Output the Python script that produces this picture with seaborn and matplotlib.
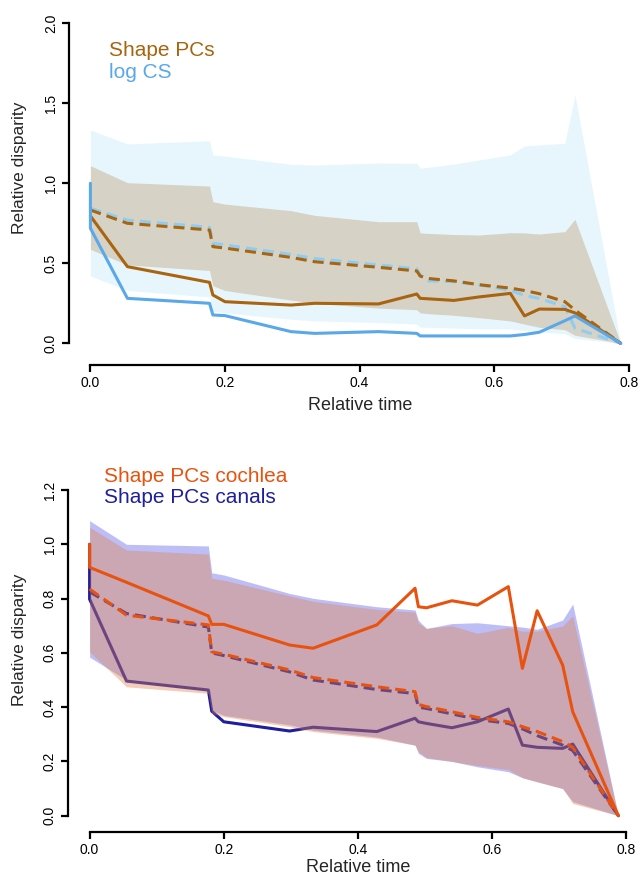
import numpy as np
import pandas as pd
import matplotlib
matplotlib.use("Agg")
import matplotlib.pyplot as plt
import seaborn as sns

# ---------------- data ----------------
time = [0, 0.055, 0.177, 0.182, 0.2, 0.298, 0.333, 0.428, 0.485, 0.49, 0.502,
        0.54, 0.578, 0.624, 0.645, 0.667, 0.705, 0.72, 0.788]

# top panel
shape_obs = [0.796, 0.479, 0.381, 0.302, 0.26, 0.239, 0.25, 0.246, 0.308, 0.281, 0.278,
             0.268, 0.29, 0.312, 0.171, 0.214, 0.212, 0.19, 0.0]
logcs_obs = [0.719, 0.281, 0.25, 0.177, 0.173, 0.073, 0.062, 0.073, 0.062, 0.046, 0.046,
             0.046, 0.046, 0.046, 0.055, 0.069, 0.141, 0.171, 0.0]
shape_null = [0.833, 0.75, 0.708, 0.604, 0.595, 0.537, 0.51, 0.475, 0.452, 0.42, 0.405,
              0.39, 0.366, 0.345, 0.33, 0.31, 0.26, 0.208, 0.0]
logcs_null = [0.844, 0.77, 0.725, 0.625, 0.615, 0.555, 0.53, 0.49, 0.465, 0.43, 0.39,
              0.385, 0.365, 0.33, 0.3, 0.28, 0.229, 0.094, 0.0]
logcs_hi = [1.333, 1.246, 1.266, 1.177, 1.17, 1.119, 1.114, 1.127, 1.125, 1.094, 1.1,
            1.12, 1.146, 1.177, 1.233, 1.24, 1.25, 1.552, 0.0]
logcs_lo = [0.421, 0.33, 0.29, 0.2, 0.19, 0.15, 0.14, 0.13, 0.12, 0.1, 0.1,
            0.095, 0.09, 0.09, 0.08, 0.07, 0.06, 0.03, 0.0]
shape_hi = [1.11, 1.004, 0.983, 0.885, 0.87, 0.829, 0.8, 0.76, 0.76, 0.69, 0.687,
            0.68, 0.677, 0.691, 0.69, 0.683, 0.698, 0.775, 0.0]
shape_lo = [0.587, 0.49, 0.455, 0.36, 0.33, 0.27, 0.25, 0.22, 0.21, 0.19, 0.185,
            0.175, 0.16, 0.14, 0.12, 0.1, 0.085, 0.05, 0.0]

# bottom panel
coch_obs = [0.915, 0.86, 0.736, 0.705, 0.705, 0.629, 0.617, 0.703, 0.838, 0.77, 0.766,
            0.792, 0.776, 0.844, 0.543, 0.755, 0.555, 0.383, 0.0]
can_obs = [0.798, 0.496, 0.463, 0.385, 0.346, 0.312, 0.326, 0.31, 0.359, 0.346, 0.34,
           0.324, 0.346, 0.393, 0.26, 0.252, 0.248, 0.264, 0.0]
coch_null = [0.835, 0.739, 0.703, 0.604, 0.595, 0.537, 0.509, 0.475, 0.457, 0.41, 0.402,
             0.383, 0.362, 0.346, 0.328, 0.31, 0.273, 0.252, 0.0]
can_null = [0.825, 0.745, 0.695, 0.6, 0.59, 0.53, 0.5, 0.465, 0.45, 0.4, 0.395,
            0.375, 0.355, 0.34, 0.32, 0.295, 0.26, 0.24, 0.0]
can_hi = [1.087, 1.0, 0.994, 0.895, 0.887, 0.819, 0.801, 0.77, 0.758, 0.72, 0.69,
          0.708, 0.711, 0.70, 0.695, 0.687, 0.721, 0.78, 0.0]
can_lo = [0.584, 0.5, 0.463, 0.389, 0.37, 0.335, 0.315, 0.29, 0.26, 0.23, 0.211,
          0.2, 0.18, 0.162, 0.14, 0.125, 0.1, 0.052, 0.0]
coch_hi = [1.063, 0.979, 0.964, 0.875, 0.868, 0.81, 0.79, 0.76, 0.75, 0.71, 0.69,
           0.70, 0.672, 0.694, 0.68, 0.68, 0.699, 0.736, 0.0]
coch_lo = [0.604, 0.475, 0.451, 0.377, 0.365, 0.328, 0.31, 0.285, 0.26, 0.235, 0.215,
           0.2, 0.185, 0.17, 0.14, 0.125, 0.1, 0.045, 0.0]

x_ticks = [0.0, 0.2, 0.4, 0.6, 0.8]
x_ticklabels = ["0.0", "0.2", "0.4", "0.6", "0.8"]
y_ticks_top = [0.0, 0.5, 1.0, 1.5, 2.0]
y_ticklabels_top = ["0.0", "0.5", "1.0", "1.5", "2.0"]
y_ticks_bot = [0.0, 0.2, 0.4, 0.6, 0.8, 1.0, 1.2]
y_ticklabels_bot = ["0.0", "0.2", "0.4", "0.6", "0.8", "1.0", "1.2"]

# ---------------- style ----------------
sns.set_theme(style="ticks")
plt.rcParams["font.family"] = ["Liberation Sans", "DejaVu Sans"]

W, H = 641, 877
fig = plt.figure(figsize=(W / 100, H / 100), dpi=100)

BROWN = "#A8640F"
BLUE = "#5AA8E8"
LIGHTBLUE = "#8ECDF3"
ORANGE = "#E8520F"
NAVY = "#1E1E9E"
LW = 2.2
DASH = (0, (3.6, 2.0))


def add_axes(pl, pr, pt, pb):
    return fig.add_axes([pl / W, 1 - pb / H, (pr - pl) / W, (pb - pt) / H])


def style_axes(ax, yticks, yticklabels, ytop):
    sns.despine(ax=ax)
    ax.spines["left"].set_bounds(0, ytop)
    ax.spines["bottom"].set_bounds(0, 0.8)
    for s in ("left", "bottom"):
        ax.spines[s].set_linewidth(1.6)
        ax.spines[s].set_color("black")
    ax.set_xticks(x_ticks)
    ax.set_xticklabels(x_ticklabels)
    ax.set_yticks(yticks)
    ax.set_yticklabels(yticklabels, rotation=90, va="center")
    ax.tick_params(axis="both", length=5, width=1.6, color="black",
                   labelsize=10, labelcolor="black")
    ax.tick_params(axis="x", pad=3)
    ax.tick_params(axis="y", pad=3)
    ax.set_facecolor("white")
    ax.grid(False)
    ax.set_xlabel("")
    ax.set_ylabel("")


def line(ax, ys, color, z, ls="-", start=None):
    xs = list(time)
    yv = list(ys)
    if start is not None:
        xs = [0.0] + xs
        yv = [start] + yv
    df = pd.DataFrame({"t": xs, "d": yv})
    sns.lineplot(data=df, x="t", y="d", sort=False, estimator=None, ax=ax,
                 color=color, lw=LW, linestyle=ls, zorder=z)


# ---------------- top panel ----------------
ax1 = add_axes(69, 641, 5, 365)
ax1.set_xlim((69 - 90.4) / 673, (641 - 90.4) / 673)
ax1.set_ylim((343.3 - 365) / 160, (343.3 - 5) / 160)

ax1.fill_between(time, logcs_lo, logcs_hi, color="#E7F6FD", lw=0, zorder=1)
ax1.fill_between(time, shape_lo, shape_hi, color="#D6D3C6", lw=0, zorder=2)
line(ax1, logcs_null, LIGHTBLUE, 3, DASH)
line(ax1, shape_null, BROWN, 4, DASH)
line(ax1, shape_obs, BROWN, 5)
line(ax1, logcs_obs, BLUE, 6, start=1.0)
style_axes(ax1, y_ticks_top, y_ticklabels_top, 2.0)

# ---------------- bottom panel ----------------
ax2 = add_axes(68, 641, 470, 831.5)
ax2.set_xlim((68 - 89.6) / 671, (641 - 89.6) / 671)
ax2.set_ylim((815.7 - 831.5) / 271.4, (815.7 - 470) / 271.4)

ax2.fill_between(time, can_lo, can_hi, color=(60 / 255, 60 / 255, 230 / 255),
                 alpha=0.33, lw=0, zorder=1)
line(ax2, can_null, NAVY, 2, DASH)
line(ax2, can_obs, NAVY, 3, start=1.0)
ax2.fill_between(time, coch_lo, coch_hi, color=(225 / 255, 130 / 255, 80 / 255),
                 alpha=0.4, lw=0, zorder=4)
line(ax2, coch_null, ORANGE, 5, DASH)
line(ax2, coch_obs, ORANGE, 6, start=1.0)
style_axes(ax2, y_ticks_bot, y_ticklabels_bot, 1.2)

# ---------------- texts ----------------
def ftext(px, py, s, **kw):
    fig.text(px / W, 1 - py / H, s, **kw)

ftext(109, 56, "Shape PCs", color=BROWN, fontsize=15, va="baseline", ha="left")
ftext(109, 78, "log CS", color=BLUE, fontsize=15, va="baseline", ha="left")
ftext(104, 481.7, "Shape PCs cochlea", color=ORANGE, fontsize=15, va="baseline", ha="left")
ftext(104, 502.7, "Shape PCs canals", color=NAVY, fontsize=15, va="baseline", ha="left")

ftext(20, 168, "Relative disparity", rotation=90, fontsize=12.5, ha="center", va="center")
ftext(20, 640, "Relative disparity", rotation=90, fontsize=12.5, ha="center", va="center")
ftext(360, 406, "Relative time", fontsize=13, ha="center", va="center")
ftext(358, 867, "Relative time", fontsize=13, ha="center", va="center")

fig.savefig("out.png", dpi=100, facecolor="white")
